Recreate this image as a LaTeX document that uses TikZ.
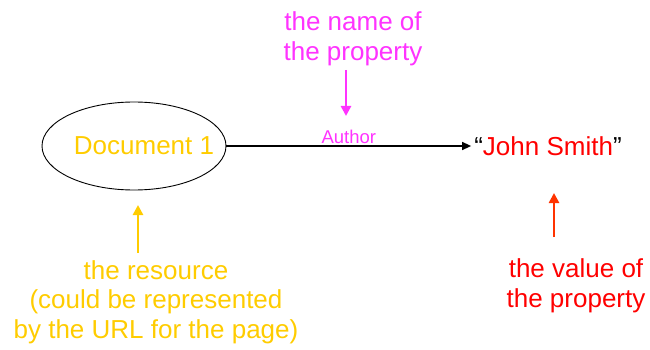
\documentclass[tikz,border=0pt]{standalone}
\usepackage{fontspec}
\setmainfont{Liberation Sans}
\usetikzlibrary{shapes.geometric,arrows.meta}
\definecolor{ryellow}{RGB}{255,204,0}
\definecolor{rmagenta}{RGB}{255,51,255}
\definecolor{rred}{RGB}{255,0,0}
\definecolor{rred2}{RGB}{255,51,0}
\begin{document}
\begin{tikzpicture}[x=1pt,y=-1pt,
  bigtxt/.style={font=\fontsize{26}{29.5}\selectfont, align=center, inner sep=0pt},
  callout/.style={line width=2.6pt, -{Triangle[length=10pt,width=10pt]}},
  link/.style={line width=1.4pt, -{Triangle[length=9pt,width=8pt]}}]
\useasboundingbox (0,0) rectangle (650,350);
% resource ellipse
\node[draw, ellipse, line width=0.9pt, minimum width=184pt, minimum height=88pt, inner sep=0pt] (doc) at (134,146) {};
\node[bigtxt, text=ryellow] (doctext) at (144,146) {Document 1};
% value
\node[bigtxt, inner sep=3pt] (john) at (548,146) {“\textcolor{rred}{John Smith}”};
% property arrow
\draw[link] (doc.east) -- (john.west |- doc.east)
  node[midway, anchor=south, inner sep=0pt, yshift=2pt, text=rmagenta, font=\fontsize{18.5}{20}\selectfont] (author) {Author};
% callouts
\node[bigtxt, text=rmagenta] (nameprop) at (353,39) {the name of\\the property};
\coordinate (m1) at (346,70);
\coordinate (m2) at (346,116);
\draw[callout, rmagenta] (m1) -- (m2);

\node[bigtxt, text=ryellow] (resource) at (156,302) {the resource\\(could be represented\\by the URL for the page)};
\coordinate (y1) at (138,253);
\coordinate (y2) at (138,205);
\draw[callout, ryellow] (y1) -- (y2);

\node[bigtxt, text=rred] (valueprop) at (576,286) {the value of\\the property};
\coordinate (r1) at (554,237);
\coordinate (r2) at (554,193);
\draw[callout, rred2] (r1) -- (r2);
\end{tikzpicture}
\end{document}
